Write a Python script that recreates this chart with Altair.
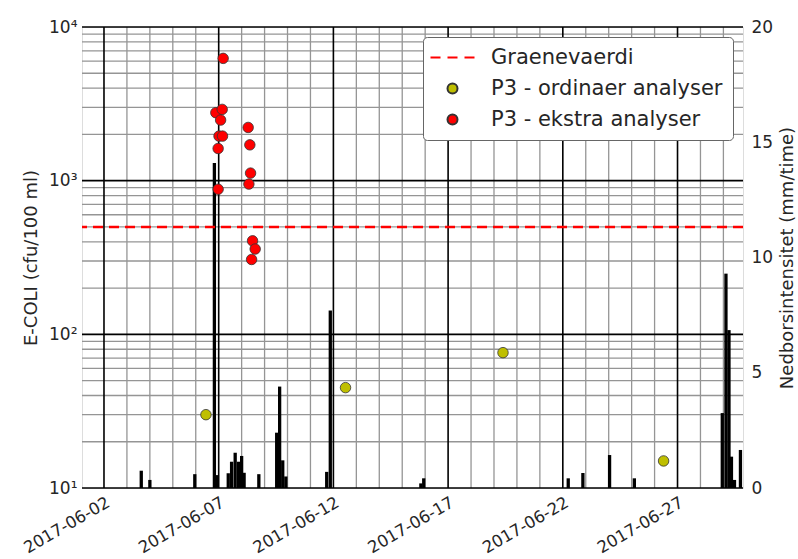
import altair as alt
import pandas as pd

FONT = "DejaVu Sans"
TEXT = "#262626"

# ---------------- data ----------------
rain_time = ["2017-06-03T15:00", "2017-06-04T00:00", "2017-06-05T23:00", "2017-06-06T19:30",
             "2017-06-06T22:40", "2017-06-07T10:00", "2017-06-07T13:30", "2017-06-07T17:15",
             "2017-06-07T20:50", "2017-06-08T00:00", "2017-06-08T02:35", "2017-06-08T18:00",
             "2017-06-09T12:40", "2017-06-09T15:45", "2017-06-09T19:00", "2017-06-09T22:15",
             "2017-06-11T17:00", "2017-06-11T20:45", "2017-06-15T19:30", "2017-06-15T22:30",
             "2017-06-22T05:40", "2017-06-22T21:00", "2017-06-24T00:55", "2017-06-25T02:50",
             "2017-06-28T22:50", "2017-06-29T02:40", "2017-06-29T05:50", "2017-06-29T08:25",
             "2017-06-29T11:35", "2017-06-29T17:50"]
rain_mm = [0.75, 0.35, 0.6, 14.1,
           0.56, 0.64, 1.14, 1.53,
           1.14, 1.39, 0.66, 0.6,
           2.4, 4.4, 1.2, 0.5,
           0.7, 7.7, 0.2, 0.42,
           0.42, 0.65, 1.43, 0.42,
           3.25, 9.3, 6.85, 1.36,
           0.35, 1.65]

ord_time = ["2017-06-06T10:40", "2017-06-12T12:40", "2017-06-19T09:25", "2017-06-26T09:25"]
ord_val = [30, 45, 76, 15]

ext_time = ["2017-06-07T04:40", "2017-06-06T21:00", "2017-06-07T03:40", "2017-06-07T02:00",
            "2017-06-07T00:20", "2017-06-07T04:00", "2017-06-06T23:25", "2017-06-06T23:25",
            "2017-06-08T06:50", "2017-06-08T08:35", "2017-06-08T09:20", "2017-06-08T07:35",
            "2017-06-08T11:25", "2017-06-08T14:10", "2017-06-08T10:25"]
ext_val = [6250, 2770, 2910, 2480,
           1950, 1950, 1620, 880,
           2220, 1710, 1120, 950,
           406, 359, 307]

threshold = [500]

series_names = ["Graenevaerdi", "P3 - ordinaer analyser", "P3 - ekstra analyser"]

major_days = ["2017-06-02T00:00", "2017-06-07T00:00", "2017-06-12T00:00",
              "2017-06-17T00:00", "2017-06-22T00:00", "2017-06-27T00:00"]
minor_days = ["2017-06-03T00:00", "2017-06-04T00:00", "2017-06-05T00:00", "2017-06-06T00:00",
              "2017-06-08T00:00", "2017-06-09T00:00", "2017-06-10T00:00", "2017-06-11T00:00",
              "2017-06-13T00:00", "2017-06-14T00:00", "2017-06-15T00:00", "2017-06-16T00:00",
              "2017-06-18T00:00", "2017-06-19T00:00", "2017-06-20T00:00", "2017-06-21T00:00",
              "2017-06-23T00:00", "2017-06-24T00:00", "2017-06-25T00:00", "2017-06-26T00:00",
              "2017-06-28T00:00", "2017-06-29T00:00"]
major_day_numbers = [2, 7, 12, 17, 22, 27]

log_major = [10, 100, 1000, 10000]
log_minor = [20, 30, 40, 50, 60, 70, 80, 90,
             200, 300, 400, 500, 600, 700, 800, 900,
             2000, 3000, 4000, 5000, 6000, 7000, 8000, 9000]
rain_ticks = [0, 5, 10, 15, 20]

# ---------------- tables ----------------
df_rain = pd.DataFrame({"t": rain_time, "mm": rain_mm})
df_pts = pd.DataFrame({
    "t": ord_time + ext_time,
    "v": ord_val + ext_val,
    "series": [series_names[1]] * len(ord_time) + [series_names[2]] * len(ext_time),
})
df_thr = pd.DataFrame({"v": threshold})
df_major = pd.DataFrame({"t": major_days})
df_minor = pd.DataFrame({"t": minor_days})
df_lmaj = pd.DataFrame({"v": log_major})
df_lmin = pd.DataFrame({"v": log_minor})

# ---------------- scales / axes ----------------
xscale = alt.Scale(domain=[alt.DateTime(year=2017, month=6, date=1, hours=1),
                           alt.DateTime(year=2017, month=6, date=29, hours=20, minutes=30)],
                   padding=0, nice=False)
xaxis = alt.Axis(
    values=[alt.DateTime(year=2017, month=6, date=d) for d in major_day_numbers],
    format="%Y-%m-%d", labelAngle=-30, labelAlign="right", labelBaseline="top",
    labelPadding=6, tickSize=0, domain=False, grid=False, labelFontSize=16.5,
    labelFont=FONT, labelColor=TEXT, labelOverlap=False, labelFlush=False, title=None,
)
X = lambda: alt.X("t:T", scale=xscale, axis=xaxis, title=None)

ylog = alt.Scale(type="log", domain=[10, 10000], nice=False)
ylog_axis = alt.Axis(
    values=log_major,
    labelExpr="'10' + (datum.value == 10 ? '\u00b9' : datum.value == 100 ? '\u00b2' : datum.value == 1000 ? '\u00b3' : '\u2074')",
    tickSize=0, domain=False, grid=False, labelFontSize=17, labelFont=FONT, labelColor=TEXT,
    labelPadding=5, title="E-COLI (cfu/100 ml)", titleFont=FONT, titleFontSize=18,
    titleFontWeight="normal", titleColor=TEXT, titlePadding=8,
)

rain_axis = alt.Axis(
    orient="right", values=rain_ticks, tickSize=0, domain=False, grid=False,
    labelFontSize=17, labelFont=FONT, labelColor=TEXT, labelPadding=8,
    title="Nedborsintensitet (mm/time)", titleFont=FONT, titleFontSize=18,
    titleFontWeight="normal", titleColor=TEXT, titleAngle=270, titleBaseline="top",
    titlePadding=6,
)

# ---------------- layers ----------------
vminor = alt.Chart(df_minor).mark_rule(color="#959595", strokeWidth=1.3).encode(x=X())
hminor = alt.Chart(df_lmin).mark_rule(color="#959595", strokeWidth=1.3).encode(
    y=alt.Y("v:Q", scale=ylog, axis=ylog_axis))
vmajor = alt.Chart(df_major).mark_rule(color="black", strokeWidth=1.6).encode(x=X())
hmajor = alt.Chart(df_lmaj).mark_rule(color="black", strokeWidth=1.6).encode(
    y=alt.Y("v:Q", scale=ylog, axis=ylog_axis))
bottom = alt.layer(vminor, hminor, vmajor, hmajor)

rain = alt.Chart(df_rain).mark_bar(color="black", size=3.3).encode(
    x=X(),
    y=alt.Y("mm:Q", scale=alt.Scale(domain=[0, 20], nice=False), axis=rain_axis),
)

thr = alt.Chart(df_thr).mark_rule(color="#ff0000", strokeDash=[10, 6], strokeWidth=2.5).encode(
    y=alt.Y("v:Q", scale=ylog, axis=None))

dash_path = "M-4.4,0H-2.4M-1,0H1M2.4,0H4.4"
legend = alt.Legend(
    title=None, orient="top-right", offset=10, fillColor="white", strokeColor="#666666",
    cornerRadius=4, padding=10, labelFontSize=21, labelFont=FONT, labelColor=TEXT,
    labelLimit=400, symbolSize=100, symbolStrokeWidth=2, rowPadding=9,
    symbolOffset=9, labelOffset=28,
)
pts = alt.Chart(df_pts).mark_point(filled=True, size=110, strokeWidth=0.8, opacity=1).encode(
    x=X(),
    y=alt.Y("v:Q", scale=ylog, axis=None),
    fill=alt.Fill("series:N", scale=alt.Scale(domain=series_names,
                                              range=["#ff0000", "#bfbf00", "#ff0000"]),
                  legend=legend),
    stroke=alt.Stroke("series:N", scale=alt.Scale(domain=series_names,
                                                  range=["#ff0000", "#333333", "#333333"]),
                      legend=legend),
    shape=alt.Shape("series:N", scale=alt.Scale(domain=series_names,
                                                range=[dash_path, "circle", "circle"]),
                    legend=legend),
)
top = alt.layer(thr, pts)

chart = alt.layer(bottom, rain, top).resolve_scale(y="independent").properties(
    width=661, height=461,
    padding={"left": 82, "top": 27, "right": 55, "bottom": 71},
    autosize=alt.AutoSizeParams(type="none"),
).configure_view(stroke="black", strokeWidth=1.6).configure(background="white")

chart.save("out.html", embed_options={"renderer": "svg", "actions": False})
